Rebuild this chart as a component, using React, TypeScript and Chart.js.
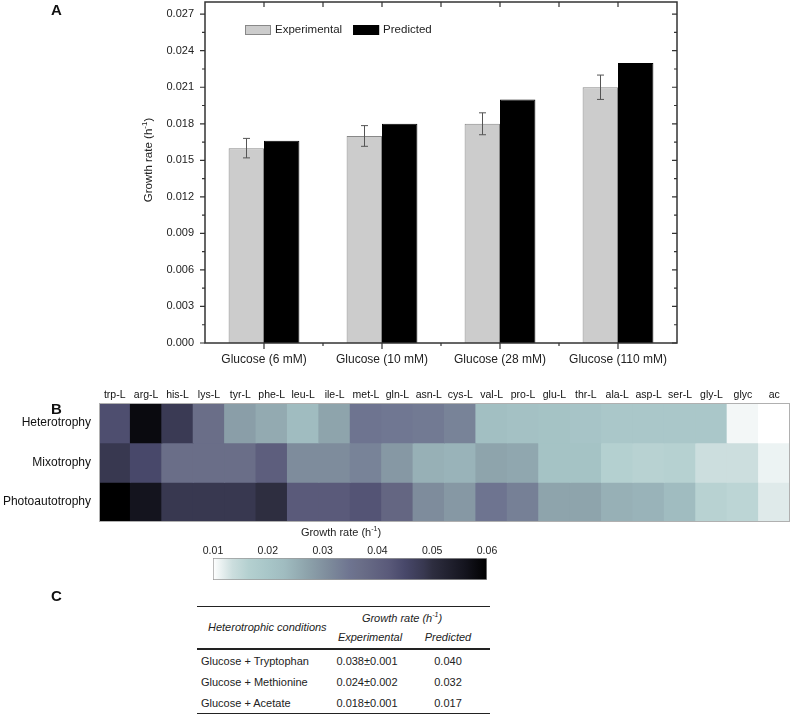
import React, { useEffect, useRef } from 'react';
import { Chart, registerables } from 'chart.js';
Chart.register(...registerables);

const FONT = "'Liberation Sans', Arial, Helvetica, sans-serif";

// ---------- Panel A data ----------
const conditions = ['Glucose (6 mM)', 'Glucose (10 mM)', 'Glucose (28 mM)', 'Glucose (110 mM)'];
const experimental = [0.016, 0.017, 0.018, 0.021];
const experimentalError = [0.0008, 0.00085, 0.0009, 0.001];
const predicted = [0.0166, 0.018, 0.02, 0.023];
const growthTicks = [0, 0.003, 0.006, 0.009, 0.012, 0.015, 0.018, 0.021, 0.024, 0.027];
const growthMax = 0.028;

// ---------- Panel B data ----------
const metabolites = ['trp-L', 'arg-L', 'his-L', 'lys-L', 'tyr-L', 'phe-L', 'leu-L', 'ile-L', 'met-L', 'gln-L', 'asn-L', 'cys-L', 'val-L', 'pro-L', 'glu-L', 'thr-L', 'ala-L', 'asp-L', 'ser-L', 'gly-L', 'glyc', 'ac'];
const regimes = ['Heterotrophy', 'Mixotrophy', 'Photoautotrophy'];
const heterotrophy = [0.044, 0.058, 0.048, 0.037, 0.028, 0.026, 0.023, 0.027, 0.035, 0.0345, 0.034, 0.0325, 0.0222, 0.0215, 0.021, 0.0205, 0.0195, 0.0195, 0.0195, 0.0195, 0.0108, 0.010];
const mixotrophy = [0.0485, 0.045, 0.037, 0.037, 0.037, 0.041, 0.031, 0.031, 0.0325, 0.029, 0.025, 0.0245, 0.027, 0.0265, 0.021, 0.021, 0.0165, 0.016, 0.0163, 0.0135, 0.0135, 0.0113];
const photoautotrophy = [0.06, 0.056, 0.0485, 0.0485, 0.0485, 0.05, 0.042, 0.042, 0.043, 0.039, 0.031, 0.029, 0.035, 0.033, 0.027, 0.027, 0.025, 0.0245, 0.023, 0.016, 0.0155, 0.0122];
const heatRows = [heterotrophy, mixotrophy, photoautotrophy];
const colorbarTicks = [0.01, 0.02, 0.03, 0.04, 0.05, 0.06];
const colorStops: [number, string][] = [
  [0.01, '#ffffff'],
  [0.0135, '#ccdede'],
  [0.0165, '#b4d0d0'],
  [0.02, '#a8c6c8'],
  [0.023, '#a0bcc0'],
  [0.027, '#8ea4ac'],
  [0.031, '#7e8c9c'],
  [0.035, '#6e7490'],
  [0.037, '#6a6e88'],
  [0.042, '#5a5a7a'],
  [0.045, '#48486a'],
  [0.0485, '#383850'],
  [0.05, '#2e2e40'],
  [0.056, '#14141e'],
  [0.06, '#000000'],
];

// ---------- Panel C data ----------
const tableConditions = ['Glucose + Tryptophan', 'Glucose + Methionine', 'Glucose + Acetate'];
const tableExperimental = ['0.038±0.001', '0.024±0.002', '0.018±0.001'];
const tablePredicted = ['0.040', '0.032', '0.017'];

function hexToRgb(h: string) {
  const n = parseInt(h.slice(1), 16);
  return [(n >> 16) & 255, (n >> 8) & 255, n & 255];
}
function colorFor(v: number) {
  const s = colorStops;
  if (v <= s[0][0]) return s[0][1];
  for (let i = 1; i < s.length; i++) {
    if (v <= s[i][0]) {
      const t = (v - s[i - 1][0]) / (s[i][0] - s[i - 1][0]);
      const a = hexToRgb(s[i - 1][1]);
      const b = hexToRgb(s[i][1]);
      return `rgb(${a.map((c, k) => Math.round(c + (b[k] - c) * t)).join(',')})`;
    }
  }
  return s[s.length - 1][1];
}

function drawSup(ctx: CanvasRenderingContext2D, base: string, sup: string, tail: string, cx: number, cy: number, size: number) {
  const big = `${size}px ${FONT}`;
  const small = `${Math.round(size * 0.68)}px ${FONT}`;
  ctx.font = big;
  const w1 = ctx.measureText(base).width;
  const w3 = ctx.measureText(tail).width;
  ctx.font = small;
  const w2 = ctx.measureText(sup).width;
  let x = cx - (w1 + w2 + w3) / 2;
  ctx.textBaseline = 'middle';
  ctx.textAlign = 'left';
  ctx.font = big;
  ctx.fillText(base, x, cy);
  x += w1;
  ctx.font = small;
  ctx.fillText(sup, x, cy - size * 0.38);
  x += w2;
  ctx.font = big;
  ctx.fillText(tail, x, cy);
}

function BarPanel() {
  const ref = useRef<HTMLCanvasElement>(null);
  useEffect(() => {
    const decor = {
      id: 'decorA',
      afterDatasetsDraw(chart: any) {
        const { ctx, scales } = chart;
        const y = scales.y;
        const meta = chart.getDatasetMeta(0);
        ctx.save();
        ctx.strokeStyle = '#555';
        ctx.lineWidth = 1;
        experimental.forEach((v, i) => {
          const bar = meta.data[i];
          const px = Math.round(bar.x) + 0.5;
          const top = y.getPixelForValue(v + experimentalError[i]);
          const bot = y.getPixelForValue(v - experimentalError[i]);
          ctx.beginPath();
          ctx.moveTo(px, top); ctx.lineTo(px, bot);
          ctx.moveTo(px - 3.5, top); ctx.lineTo(px + 3.5, top);
          ctx.moveTo(px - 3.5, bot); ctx.lineTo(px + 3.5, bot);
          ctx.stroke();
        });
        ctx.restore();
      },
      afterDraw(chart: any) {
        const { ctx, chartArea: a, scales } = chart;
        const { x, y } = scales;
        ctx.save();
        ctx.strokeStyle = '#333';
        ctx.lineWidth = 1.5;
        ctx.strokeRect(a.left, a.top, a.width, a.height);
        ctx.lineWidth = 1.2;
        ctx.beginPath();
        for (let k = 0; k * 0.0015 <= growthMax + 1e-9; k++) {
          const py = y.getPixelForValue(k * 0.0015);
          const len = k % 2 === 0 ? 5 : 3;
          ctx.moveTo(a.left - len, py); ctx.lineTo(a.left, py);
          ctx.moveTo(a.right, py); ctx.lineTo(a.right - len, py);
        }
        const n = conditions.length;
        for (let i = 0; i < n; i++) {
          const px = x.getPixelForValue(i);
          ctx.moveTo(px, a.top); ctx.lineTo(px, a.top + 5);
          ctx.moveTo(px, a.bottom); ctx.lineTo(px, a.bottom + 6);
          if (i < n - 1) {
            const bx = (px + x.getPixelForValue(i + 1)) / 2;
            ctx.moveTo(bx, a.top); ctx.lineTo(bx, a.top + 5);
            ctx.moveTo(bx, a.bottom); ctx.lineTo(bx, a.bottom + 3);
          }
        }
        ctx.stroke();

        // legend
        const ds = chart.data.datasets;
        const lx = a.left + 40;
        const ly = a.top + 28;
        ctx.font = `11.5px ${FONT}`;
        ctx.textBaseline = 'middle';
        ctx.textAlign = 'left';
        let cx = lx;
        ds.forEach((d: any) => {
          ctx.fillStyle = d.backgroundColor;
          ctx.fillRect(cx, ly - 5, 26, 10);
          ctx.strokeStyle = d.borderColor;
          ctx.lineWidth = 1;
          ctx.strokeRect(cx + 0.5, ly - 4.5, 25, 9);
          ctx.fillStyle = '#222';
          ctx.fillText(d.label, cx + 30, ly);
          cx += 30 + ctx.measureText(d.label).width + 11;
        });

        // y title
        ctx.fillStyle = '#222';
        ctx.translate(149, 160);
        ctx.rotate(-Math.PI / 2);
        drawSup(ctx, 'Growth rate (h', '-1', ')', 0, 0, 11.5);
        ctx.restore();
      },
    };
    const chart = new Chart(ref.current!, {
      type: 'bar',
      data: {
        labels: conditions,
        datasets: [
          { label: 'Experimental', data: experimental, backgroundColor: '#cccccc', borderColor: '#888888', borderWidth: 1, categoryPercentage: 0.6, barPercentage: 1 },
          { label: 'Predicted', data: predicted, backgroundColor: '#000000', borderColor: '#000000', borderWidth: 1, categoryPercentage: 0.6, barPercentage: 1 },
        ],
      },
      options: {
        responsive: false,
        animation: false,
        layout: { padding: { top: 2, right: 116, left: 0, bottom: 0 } },
        plugins: { legend: { display: false }, tooltip: { enabled: false } },
        scales: {
          x: {
            grid: { display: false, drawTicks: false },
            border: { display: false },
            ticks: { font: { family: FONT, size: 12 }, color: '#222', padding: 9, maxRotation: 0 },
            afterFit: (s: any) => { s.height = 32; s.paddingLeft = 0; s.paddingRight = 0; },
          },
          y: {
            min: 0,
            max: growthMax,
            grid: { display: false, drawTicks: false },
            border: { display: false },
            afterBuildTicks: (s: any) => { s.ticks = growthTicks.map((v) => ({ value: v })); },
            ticks: { font: { family: FONT, size: 11 }, color: '#222', padding: 11, callback: (v: any) => Number(v).toFixed(3) },
            afterFit: (s: any) => { s.width = 205; s.paddingTop = 0; s.paddingBottom = 0; },
          },
        },
      } as any,
      plugins: [decor],
    });
    return () => chart.destroy();
  }, []);
  return <canvas ref={ref} width={793} height={375} style={{ position: 'absolute', left: 0, top: 0, display: 'block' }} />;
}

function HeatPanel() {
  const ref = useRef<HTMLCanvasElement>(null);
  useEffect(() => {
    const frame = {
      id: 'frameB',
      afterDraw(chart: any) {
        const { ctx, chartArea: a } = chart;
        ctx.save();
        ctx.strokeStyle = '#b0b0b0';
        ctx.lineWidth = 1;
        ctx.strokeRect(Math.round(a.left) + 0.5, Math.round(a.top) + 0.5, Math.round(a.width) - 1, Math.round(a.height) - 1);
        ctx.restore();
      },
    };
    const chart = new Chart(ref.current!, {
      type: 'bar',
      data: {
        labels: metabolites,
        datasets: regimes.map((r, ri) => ({
          label: r,
          data: metabolites.map(() => [ri, ri + 1]),
          backgroundColor: heatRows[ri].map(colorFor),
          borderWidth: 0,
          inflateAmount: 0.5,
          barPercentage: 1,
          categoryPercentage: 1,
          grouped: false,
        })),
      },
      options: {
        responsive: false,
        animation: false,
        layout: { padding: { top: 0, right: 3, left: 0, bottom: 3 } },
        plugins: { legend: { display: false }, tooltip: { enabled: false } },
        scales: {
          x: {
            position: 'top',
            grid: { display: false, drawTicks: false },
            border: { display: false },
            ticks: { font: { family: FONT, size: 10.5 }, color: '#111', padding: 2, maxRotation: 0, autoSkip: false },
            afterFit: (s: any) => { s.height = 23; s.paddingLeft = 0; s.paddingRight = 0; },
          },
          y: {
            min: 0,
            max: 3,
            reverse: true,
            grid: { display: false, drawTicks: false },
            border: { display: false },
            afterBuildTicks: (s: any) => { s.ticks = regimes.map((_, i) => ({ value: i + 0.5 })); },
            ticks: { font: { family: FONT, size: 12 }, color: '#111', padding: 8, callback: (v: any) => regimes[Math.floor(Number(v))] },
            afterFit: (s: any) => { s.width = 99; s.paddingTop = 0; s.paddingBottom = 0; },
          },
        },
      } as any,
      plugins: [frame],
    });
    return () => chart.destroy();
  }, []);
  return <canvas ref={ref} width={793} height={145} style={{ position: 'absolute', left: 0, top: 380, display: 'block' }} />;
}

function ColorbarPanel() {
  const ref = useRef<HTMLCanvasElement>(null);
  useEffect(() => {
    const title = {
      id: 'cbTitle',
      afterDraw(chart: any) {
        const { ctx, chartArea: a } = chart;
        ctx.save();
        ctx.fillStyle = '#222';
        drawSup(ctx, 'Growth rate (h', '-1', ')', (a.left + a.right) / 2 - 9, 11, 11);
        ctx.restore();
      },
    };
    const lo = colorbarTicks[0];
    const hi = colorbarTicks[colorbarTicks.length - 1];
    const chart = new Chart(ref.current!, {
      type: 'bar',
      data: {
        labels: [''],
        datasets: [{
          data: [[lo, hi]],
          backgroundColor: (c: any) => {
            const a = c.chart.chartArea;
            const xs = c.chart.scales.x;
            if (!a || !xs) return '#999';
            const g = c.chart.ctx.createLinearGradient(xs.getPixelForValue(lo), 0, xs.getPixelForValue(hi), 0);
            colorStops.forEach(([v, col]) => g.addColorStop((v - lo) / (hi - lo), col));
            return g;
          },
          borderColor: '#9a9a9a',
          borderWidth: 1,
          borderSkipped: false,
          barPercentage: 1,
          categoryPercentage: 1,
        }],
      },
      options: {
        indexAxis: 'y',
        responsive: false,
        animation: false,
        layout: { padding: { top: 0, right: 306, left: 213, bottom: 5 } },
        plugins: { legend: { display: false }, tooltip: { enabled: false } },
        scales: {
          x: {
            type: 'linear',
            position: 'top',
            min: lo,
            max: hi,
            grid: { display: false, drawTicks: false },
            border: { display: false },
            afterBuildTicks: (s: any) => { s.ticks = colorbarTicks.map((v) => ({ value: v })); },
            ticks: { font: { family: FONT, size: 10.5 }, color: '#222', padding: 1, maxRotation: 0, callback: (v: any) => Number(v).toFixed(2) },
            afterFit: (s: any) => { s.height = 36; s.paddingLeft = 0; s.paddingRight = 0; },
          },
          y: { display: false },
        },
      } as any,
      plugins: [title],
    });
    return () => chart.destroy();
  }, []);
  return <canvas ref={ref} width={793} height={63} style={{ position: 'absolute', left: 0, top: 522, display: 'block' }} />;
}

const txt = (extra: React.CSSProperties): React.CSSProperties => ({
  position: 'absolute',
  fontFamily: FONT,
  fontSize: 11,
  lineHeight: '14px',
  height: 14,
  color: '#222',
  whiteSpace: 'nowrap',
  ...extra,
});

function TablePanel() {
  const rowY = [661, 682, 703];
  return (
    <>
      <div style={{ position: 'absolute', left: 197, top: 606, width: 293, height: 1, background: '#222' }} />
      <div style={{ position: 'absolute', left: 197, top: 648, width: 293, height: 1.5, background: '#222' }} />
      <div style={{ position: 'absolute', left: 197, top: 713, width: 293, height: 1, background: '#222' }} />
      <div style={txt({ left: 208, top: 627 - 7, fontStyle: 'italic' })}>Heterotrophic conditions</div>
      <div style={txt({ left: 342, width: 120, textAlign: 'center', top: 618 - 7, fontStyle: 'italic' })}>
        Growth rate (h<sup style={{ fontSize: 7, verticalAlign: 'top', lineHeight: '8px' }}>-1</sup>)
      </div>
      <div style={txt({ left: 320, width: 100, textAlign: 'center', top: 637 - 7, fontStyle: 'italic' })}>Experimental</div>
      <div style={txt({ left: 408, width: 80, textAlign: 'center', top: 637 - 7, fontStyle: 'italic' })}>Predicted</div>
      {tableConditions.map((c, i) => (
        <React.Fragment key={c}>
          <div style={txt({ left: 201, top: rowY[i] - 7 })}>{c}</div>
          <div style={txt({ left: 317, width: 100, textAlign: 'center', top: rowY[i] - 7 })}>{tableExperimental[i]}</div>
          <div style={txt({ left: 408, width: 80, textAlign: 'center', top: rowY[i] - 7 })}>{tablePredicted[i]}</div>
        </React.Fragment>
      ))}
    </>
  );
}

const panelLetter = (letter: string, cy: number) => (
  <div style={{ position: 'absolute', left: 51, top: cy - 9, lineHeight: '18px', fontFamily: FONT, fontWeight: 'bold', fontSize: 15, color: '#111' }}>{letter}</div>
);

export default function App() {
  return (
    <div style={{ position: 'absolute', left: 0, top: 0, width: 793, height: 715, background: '#fff', overflow: 'hidden' }}>
      <BarPanel />
      <HeatPanel />
      <ColorbarPanel />
      <TablePanel />
      {panelLetter('A', 10)}
      {panelLetter('B', 409)}
      {panelLetter('C', 596)}
    </div>
  );
}
